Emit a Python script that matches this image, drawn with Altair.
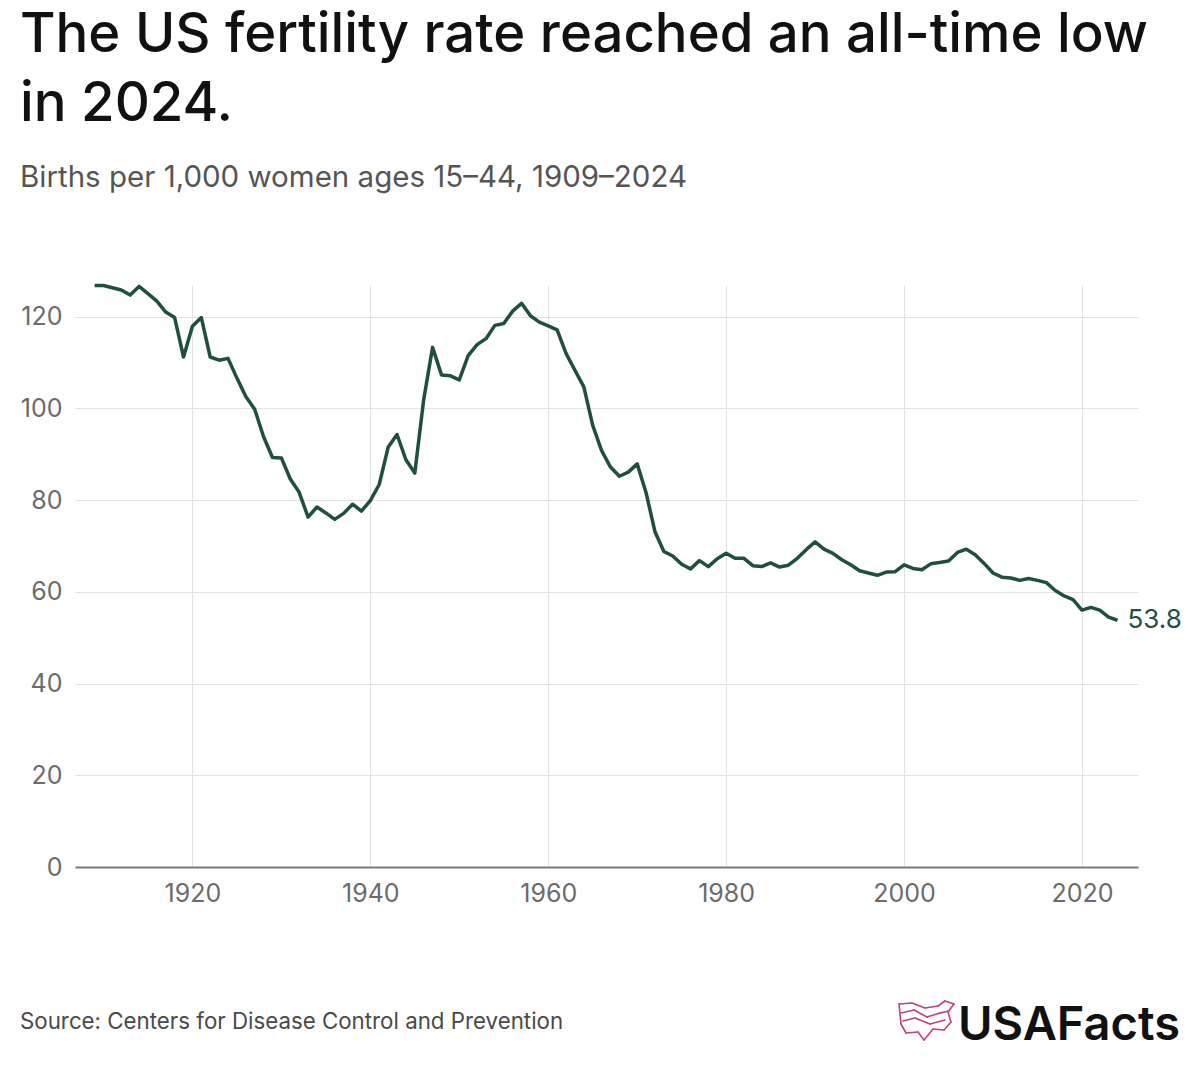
import altair as alt
import pandas as pd

years = list(range(1909, 2025))
rates = [126.8, 126.8, 126.3, 125.8, 124.7, 126.6, 125.0, 123.4, 121.0, 119.8,
         111.2, 117.9, 119.8, 111.2, 110.5, 110.9, 106.6, 102.6, 99.8, 93.8,
         89.3, 89.2, 84.6, 81.7, 76.3, 78.5, 77.2, 75.8, 77.1, 79.1,
         77.6, 79.9, 83.4, 91.5, 94.3, 88.8, 85.9, 101.9, 113.3, 107.3,
         107.1, 106.2, 111.5, 113.9, 115.2, 118.1, 118.5, 121.2, 122.9, 120.2,
         118.8, 118.0, 117.1, 112.0, 108.3, 104.7, 96.3, 90.8, 87.2, 85.2,
         86.1, 87.9, 81.6, 73.1, 68.8, 67.8, 66.0, 65.0, 66.8, 65.5,
         67.2, 68.4, 67.3, 67.3, 65.7, 65.5, 66.3, 65.4, 65.8, 67.3,
         69.2, 70.9, 69.3, 68.4, 67.0, 65.9, 64.6, 64.1, 63.6, 64.3,
         64.4, 65.9, 65.1, 64.8, 66.1, 66.4, 66.7, 68.6, 69.3, 68.1,
         66.2, 64.1, 63.2, 63.0, 62.5, 62.9, 62.5, 62.0, 60.3, 59.1,
         58.3, 56.0, 56.6, 56.0, 54.5, 53.8]
x_ticks = [1920, 1940, 1960, 1980, 2000, 2020]
y_ticks = [0, 20, 40, 60, 80, 100, 120]

title_1 = "The US fertility rate reached an all-time low"
title_2 = "in 2024."
subtitle = "Births per 1,000 women ages 15\u201344, 1909\u20132024"
source = "Source: Centers for Disease Control and Prevention"
brand = "USAFacts"

df = pd.DataFrame({"year": years, "rate": rates})

GREEN = "#1f4f40"
FONT = "Inter"
OX, OY = 75, 285  # plot origin on page

xs = alt.Scale(domain=[1906.8, 2026.3], nice=False, zero=False)
ys = alt.Scale(domain=[0, 126.9], nice=False)

x_enc = alt.X("year:Q", scale=xs, axis=alt.Axis(
    values=x_ticks, format="d", title=None, grid=True, gridColor="#e2e2e2",
    ticks=False, domainColor="#7a7a7a", domainWidth=2, labelFontSize=25,
    labelColor="#6b6b6b", labelPadding=14, labelFont=FONT))
y_enc = alt.Y("rate:Q", scale=ys, axis=alt.Axis(
    values=y_ticks, title=None, domain=False, ticks=False, grid=True,
    gridColor="#e2e2e2", labelFontSize=25, labelColor="#6b6b6b",
    labelPadding=13, labelFont=FONT))

line = alt.Chart(df).mark_line(color=GREEN, strokeWidth=3.5, strokeJoin="round").encode(
    x=x_enc, y=y_enc)

end_label = alt.Chart(df).transform_filter(alt.datum.year == 2024).mark_text(
    align="left", baseline="middle", dx=10, fontSize=26, font=FONT, color=GREEN
).encode(x=alt.X("year:Q", scale=xs), y=alt.Y("rate:Q", scale=ys),
         text=alt.Text("rate:Q", format=".1f"))

one = alt.Data(values=[{}])


def txt(text, px, py, size, color, weight=400):
    return alt.Chart(one).mark_text(
        text=text, align="left", baseline="alphabetic", fontSize=size,
        font=FONT, fontWeight=weight, color=color
    ).encode(x=alt.value(px - OX), y=alt.value(py - OY))


texts = [
    txt(title_1, 20, 52, 54.5, "#111111", 500),
    txt(title_2, 20, 121, 54.5, "#111111", 500),
    txt(subtitle, 20, 187, 29.5, "#555555"),
    txt(source, 20, 1029, 22.3, "#4a4a4a"),
    txt(brand, 958, 1040, 47, "#111111", 600),
]

PINK = "#c2407e"
logo_paths = [
    [(899, 1004), (912, 1003), (925, 1008), (938, 1006), (945, 1001), (954, 1004),
     (948, 1012), (951, 1022), (944, 1030), (933, 1029), (924, 1040), (918, 1032),
     (906, 1033), (901, 1024), (899, 1004)],
    [(901, 1013), (914, 1010), (927, 1017), (940, 1013), (949, 1011)],
    [(903, 1021), (915, 1018), (930, 1024), (945, 1020)],
]
rules = []
for path in logo_paths:
    for (a, b), (c, d) in zip(path[:-1], path[1:]):
        rules.append(alt.Chart(one).mark_rule(color=PINK, strokeWidth=1.6, strokeCap="round").encode(
            x=alt.value(a - OX), x2=alt.value(c - OX), y=alt.value(b - OY), y2=alt.value(d - OY)))

chart = alt.layer(line, end_label, *texts, *rules).properties(
    width=1063, height=582,
    padding={"left": 67, "top": 277, "right": 54, "bottom": 194},
    autosize=alt.AutoSizeParams(type="none"),
    background="white",
).configure_view(stroke=None)

chart.save("out.html", embed_options={"renderer": "svg", "actions": False})
